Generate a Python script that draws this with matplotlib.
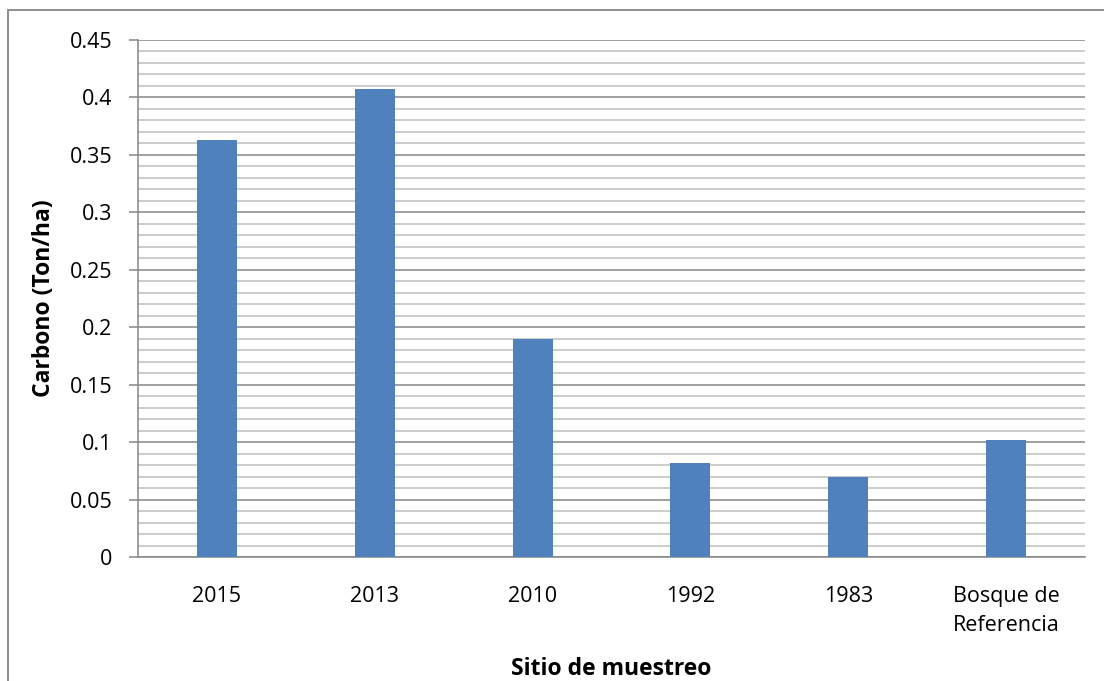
import numpy as np
import matplotlib
matplotlib.use("Agg")
import matplotlib.pyplot as plt
from matplotlib.patches import Rectangle
from matplotlib.ticker import MultipleLocator

plt.rcParams['font.family'] = ['Open Sans', 'DejaVu Sans']

sitios = ['2015', '2013', '2010', '1992', '1983', 'Bosque de\nReferencia']
carbono = [0.363, 0.407, 0.190, 0.082, 0.070, 0.102]

fig = plt.figure(figsize=(11.04, 6.81), dpi=100)
ax = fig.add_axes([138/1104, 124/681, 947/1104, 517/681])

x = np.arange(len(sitios))
ax.bar(x, carbono, width=0.253, color='#4F81BD', zorder=3)

ax.set_xlim(-0.5, len(sitios) - 0.5)
ax.set_ylim(0, 0.45)
ax.yaxis.set_minor_locator(MultipleLocator(0.01))
ax.set_yticks(np.arange(0, 0.451, 0.05))
ax.set_yticklabels(['0', '0.05', '0.1', '0.15', '0.2', '0.25', '0.3', '0.35', '0.4', '0.45'])
ax.set_xticks(x)
ax.set_xticklabels(sitios, fontsize=15.5, linespacing=1.5)

ax.grid(axis='y', which='major', color='#868686', linewidth=1.1, zorder=1)
ax.grid(axis='y', which='minor', color='#BFBFBF', linewidth=1.1, zorder=1)
ax.set_axisbelow(True)

for s in ['top', 'right']:
    ax.spines[s].set_visible(False)
ax.spines['left'].set_color('#868686')
ax.spines['bottom'].set_color('#868686')
ax.spines['left'].set_linewidth(1.1)
ax.spines['bottom'].set_linewidth(1.1)

ax.tick_params(axis='y', which='major', length=6.5, width=1.1, color='#868686', labelsize=15.5, pad=12)
ax.tick_params(axis='y', which='minor', length=0)
ax.tick_params(axis='x', length=0, pad=21)

ax.set_ylabel('Carbono (Ton/ha)', fontsize=16.5, fontweight='bold', labelpad=10)
ax.set_xlabel('Sitio de muestreo', fontsize=16.5, fontweight='bold', labelpad=15)

# outer chart frame
fig.patches.append(Rectangle((8/1104, -0.05), 1.2, (681-10)/681 + 0.05,
                             transform=fig.transFigure, fill=False,
                             edgecolor='#868686', linewidth=1.3))

plt.savefig('out.png', dpi=100)
